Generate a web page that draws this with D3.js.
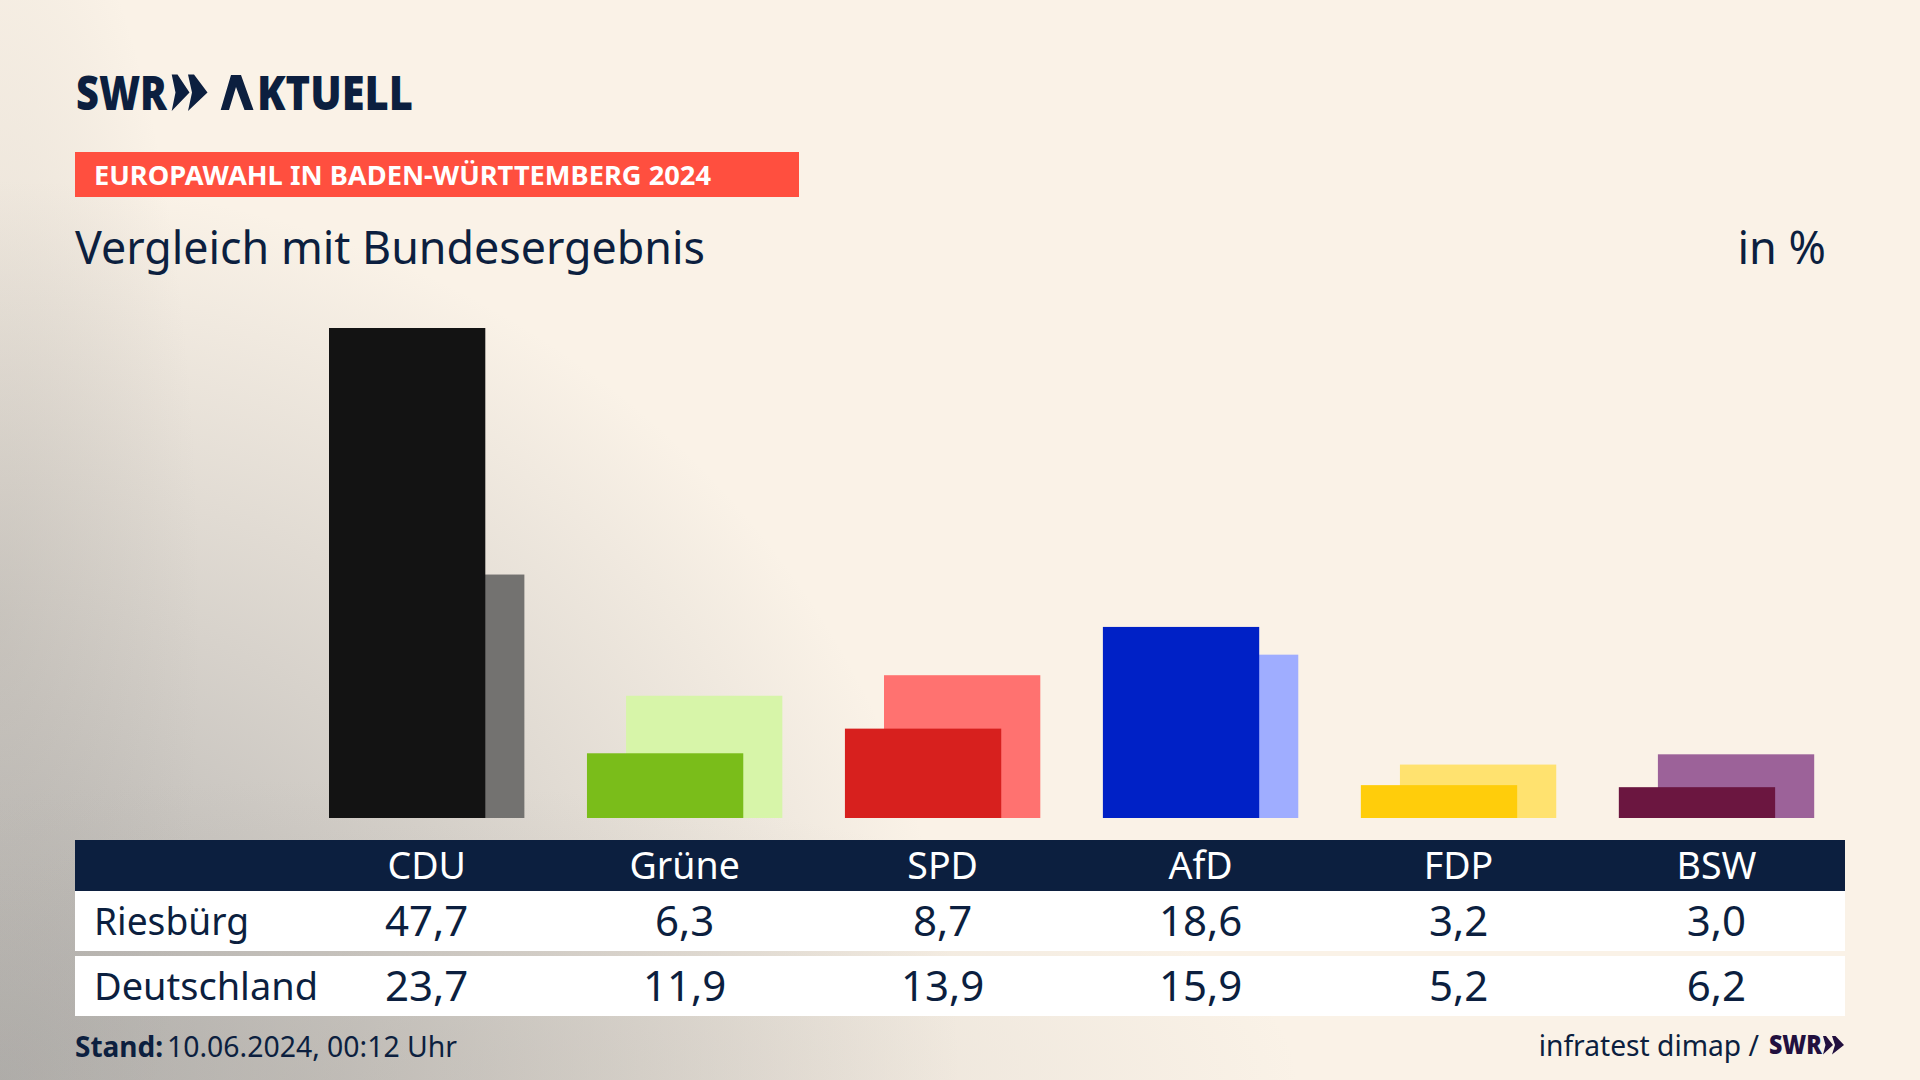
<!DOCTYPE html>
<html>
<head>
<meta charset="utf-8">
<script src="https://cdn.jsdelivr.net/npm/d3@7"></script>
<style>
  body { margin: 0; background: #f9f1e6; }
  svg { display: block; }
  text { font-family: "Noto Sans", sans-serif; fill: #0c1f3f; }
</style>
</head>
<body>
<div id="chart"></div>
<script>
const parties = ["CDU", "Grüne", "SPD", "AfD", "FDP", "BSW"];
const riesbuerg = [47.7, 6.3, 8.7, 18.6, 3.2, 3.0];
const deutschland = [23.7, 11.9, 13.9, 15.9, 5.2, 6.2];
const mainColors = ["#131313", "#7abd1a", "#d7201e", "#0021c6", "#ffcd0b", "#6b1640"];
const lightColors = ["#737270", "#d7f5a9", "#ff7270", "#9fadff", "#ffe26f", "#9c6299"];

const width = 1920;
const height = 1080;
const navy = "#0c1f3f";

const svg = d3.select("#chart")
    .append("svg")
    .attr("width", width)
    .attr("height", height);

svg.append("rect").attr("width", width).attr("height", height).attr("fill", "#faf2e7");

// Grey glow in the bottom left, built from a few soft ellipses
const defs = svg.append("defs");
function addGlow(id, cx, cy, rx, ry, color, alpha) {
    const grad = defs.append("radialGradient").attr("id", id);
    grad.append("stop").attr("offset", "0").attr("stop-color", color).attr("stop-opacity", alpha);
    grad.append("stop").attr("offset", "0.5").attr("stop-color", color).attr("stop-opacity", alpha * 0.5);
    grad.append("stop").attr("offset", "1").attr("stop-color", color).attr("stop-opacity", 0);
    svg.append("ellipse")
        .attr("cx", cx).attr("cy", cy)
        .attr("rx", rx).attr("ry", ry)
        .attr("fill", `url(#${id})`);
}
addGlow("glowMain", 0, 1080, 960, 900, "#9c9c9c", 0.8);
addGlow("glowLeft", 0, 620, 200, 780, "#a8a49e", 0.3);
addGlow("glowBottom", 300, 1080, 1000, 300, "#b0aca6", 0.4);

// Scales
const x = d3.scaleBand()
    .domain(parties)
    .range([329, 1814.2])
    .paddingInner(62.6 / 258);

const y = d3.scaleLinear()
    .domain([0, 47.7])
    .range([818, 328]);

const barW = x.bandwidth() * 0.8;
const offset = x.bandwidth() * 0.2;

// Bars, the federal result sits behind and to the right
svg.selectAll(".bund")
    .data(deutschland)
    .enter()
    .append("rect")
    .attr("class", "bund")
    .attr("x", (d, i) => x(parties[i]) + offset)
    .attr("y", d => y(d))
    .attr("width", barW)
    .attr("height", d => y(0) - y(d))
    .attr("fill", (d, i) => lightColors[i]);

svg.selectAll(".ort")
    .data(riesbuerg)
    .enter()
    .append("rect")
    .attr("class", "ort")
    .attr("x", (d, i) => x(parties[i]))
    .attr("y", d => y(d))
    .attr("width", barW)
    .attr("height", d => y(0) - y(d))
    .attr("fill", (d, i) => mainColors[i]);

// Logo
svg.append("text")
    .attr("x", 76).attr("y", 110)
    .attr("font-size", 48).attr("font-weight", 900)
    .attr("textLength", 91).attr("lengthAdjust", "spacingAndGlyphs")
    .text("SWR");
svg.append("path")
    .attr("d", "M171.7,74.5 L177.5,74.5 L189.5,92.5 L171.7,111 L175.5,92.5 Z M188,74.5 L194,74.5 L207.5,92.5 L188,111 L192,92.5 Z")
    .attr("fill", navy);
// the A of the logo has no crossbar, so the letter stays in the text but is drawn as a path
const aktuell = svg.append("text")
    .attr("x", 221).attr("y", 110)
    .attr("font-size", 48).attr("font-weight", 900);
aktuell.append("tspan").attr("fill-opacity", 0).text("A");
aktuell.append("tspan")
    .attr("x", 257)
    .attr("textLength", 156).attr("lengthAdjust", "spacingAndGlyphs")
    .text("KTUELL");
svg.append("path")
    .attr("d", "M220.7,110 L231,75 L241,75 L253.5,110 L244.5,110 L236,87 L229,110 Z")
    .attr("fill", navy);

// Red badge
svg.append("rect")
    .attr("x", 75).attr("y", 152)
    .attr("width", 724).attr("height", 45)
    .attr("fill", "#ff4f3f");
svg.append("text")
    .attr("x", 94).attr("y", 185)
    .attr("font-size", 27).attr("font-weight", 700)
    .style("fill", "#fff")
    .attr("textLength", 617).attr("lengthAdjust", "spacingAndGlyphs")
    .text("EUROPAWAHL IN BADEN-WÜRTTEMBERG 2024");

// Title and unit
svg.append("text")
    .attr("x", 75).attr("y", 264)
    .attr("font-size", 45)
    .attr("textLength", 630).attr("lengthAdjust", "spacingAndGlyphs")
    .text("Vergleich mit Bundesergebnis");
svg.append("text")
    .attr("x", 1826).attr("y", 264)
    .attr("text-anchor", "end")
    .attr("font-size", 45)
    .text("in %");

// Table
svg.append("rect").attr("x", 75).attr("y", 840).attr("width", 1770).attr("height", 51).attr("fill", navy);
svg.append("rect").attr("x", 75).attr("y", 891).attr("width", 1770).attr("height", 60).attr("fill", "#fff");
svg.append("rect").attr("x", 75).attr("y", 956).attr("width", 1770).attr("height", 60).attr("fill", "#fff");

// Party names as an axis, no line and no ticks
const header = svg.append("g")
    .attr("transform", "translate(0,879)")
    .call(d3.axisBottom(x).tickSize(0).tickPadding(0));
header.select(".domain").remove();
header.selectAll("text")
    .attr("y", 0).attr("dy", 0)
    .attr("font-family", null)
    .style("font-size", "37.5px")
    .style("fill", "#fff");

const fmt = v => v.toFixed(1).replace(".", ",");

function addRow(name, values, baseline, nameWidth) {
    svg.append("text")
        .attr("x", 94).attr("y", baseline)
        .attr("font-size", 38)
        .attr("textLength", nameWidth).attr("lengthAdjust", "spacingAndGlyphs")
        .text(name);
    svg.append("g").selectAll("text")
        .data(values)
        .enter()
        .append("text")
        .attr("x", (d, i) => x(parties[i]) + x.bandwidth() / 2)
        .attr("y", baseline + 1)
        .attr("text-anchor", "middle")
        .attr("font-size", 42)
        .text(d => fmt(d));
}
addRow("Riesbürg", riesbuerg, 935, 155);
addRow("Deutschland", deutschland, 1000, 224);

// Footer
const stand = svg.append("text").attr("y", 1057).attr("font-size", 28);
stand.append("tspan").attr("x", 75).attr("font-weight", 700).text("Stand:");
stand.append("tspan").attr("x", 167).attr("font-size", 28.4).text("10.06.2024, 00:12 Uhr");

svg.append("text")
    .attr("x", 1759).attr("y", 1056)
    .attr("text-anchor", "end")
    .attr("font-size", 28.2)
    .text("infratest dimap /");
svg.append("text")
    .attr("x", 1769).attr("y", 1054)
    .attr("font-size", 27).attr("font-weight", 900)
    .style("fill", "#22103f")
    .attr("textLength", 53).attr("lengthAdjust", "spacingAndGlyphs")
    .text("SWR");
svg.append("path")
    .attr("d", "M1823,1036 L1826,1036 L1833,1045 L1823,1054.5 L1825.5,1045 Z M1832,1036 L1835.5,1036 L1844,1045 L1832,1054.5 L1835,1045 Z")
    .attr("fill", "#22103f");
</script>
</body>
</html>
